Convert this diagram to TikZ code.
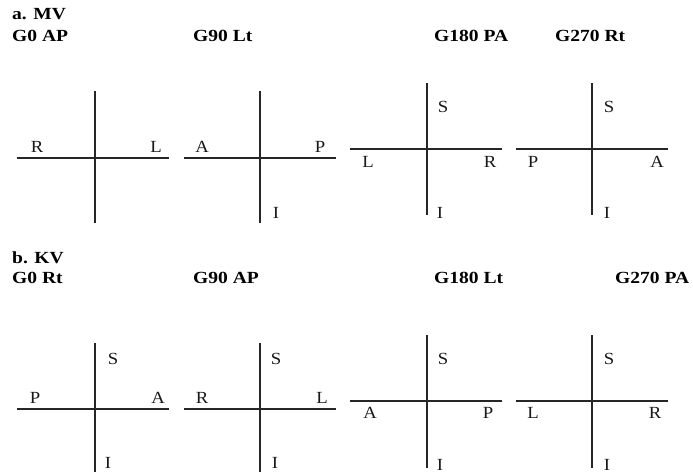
\documentclass[tikz,border=0pt]{standalone}
\usepackage{fontspec}
\setmainfont{Liberation Serif}
\tikzset{
  axisline/.style={draw=black!85, line width=1.1pt},
  lbl/.style={font=\fontsize{17}{19}\selectfont, inner sep=0pt, text=black!90},
  ttl/.style={font=\fontsize{17}{19}\selectfont\bfseries, inner sep=0pt, anchor=base west, text=black}
}
% slightly widened text
\newcommand{\widetext}[1]{\scalebox{1.15}[1]{#1}}
\newcommand{\lbltext}[1]{\scalebox{1.1}[1]{#1}}
% one pair of axes: name, centre x, centre y, up, down, left, right
\newcommand{\axispair}[7]{%
  \coordinate (#1c) at (#2,#3);
  \coordinate (#1t) at (#2,#3-#4);
  \coordinate (#1b) at (#2,#3+#5);
  \coordinate (#1l) at (#2-#6,#3);
  \coordinate (#1r) at (#2+#7,#3);
  \draw[axisline] (#1t) -- (#1b);
  \draw[axisline] (#1l) -- (#1r);
}
\begin{document}
\begin{tikzpicture}[x=1pt, y=-1pt]
\useasboundingbox (0,0) rectangle (693,474);

% ---------- a. MV ----------
\node[ttl] (mv)    at (12,19)  {\widetext{a. MV}};
\node[ttl] (a0)    at (12,41)  {\widetext{G0 AP}};
\node[ttl] (a90)   at (193,41) {\widetext{G90 Lt}};
\node[ttl] (a180)  at (434,41) {\widetext{G180 PA}};
\node[ttl] (a270)  at (555,41) {\widetext{G270 Rt}};

\axispair{p1}{95}{158}{67}{65}{78}{74}
\node[lbl] (p1R) at (37,147)  {\lbltext{R}};
\node[lbl] (p1L) at (156,147) {\lbltext{L}};

\axispair{p2}{260}{158}{67}{65}{76}{76}
\node[lbl] (p2A) at (202,147) {\lbltext{A}};
\node[lbl] (p2P) at (320,147) {\lbltext{P}};
\node[lbl] (p2I) at (276,213) {\lbltext{I}};

\axispair{p3}{427}{149}{66}{66}{77}{75}
\node[lbl] (p3S) at (443,107) {\lbltext{S}};
\node[lbl] (p3L) at (368,162) {\lbltext{L}};
\node[lbl] (p3R) at (490,162) {\lbltext{R}};
\node[lbl] (p3I) at (440,213) {\lbltext{I}};

\axispair{p4}{592}{149}{66}{66}{76}{76}
\node[lbl] (p4S) at (609,107) {\lbltext{S}};
\node[lbl] (p4P) at (533,162) {\lbltext{P}};
\node[lbl] (p4A) at (657,162) {\lbltext{A}};
\node[lbl] (p4I) at (607,213) {\lbltext{I}};

% ---------- b. KV ----------
\node[ttl] (kv)    at (12,263)  {\widetext{b. KV}};
\node[ttl] (b0)    at (12,283)  {\widetext{G0 Rt}};
\node[ttl] (b90)   at (193,283) {\widetext{G90 AP}};
\node[ttl] (b180)  at (434,283) {\widetext{G180 Lt}};
\node[ttl] (b270)  at (615,283) {\widetext{G270 PA}};

\axispair{q1}{95}{409}{66}{63}{78}{74}
\node[lbl] (q1S) at (113,359) {\lbltext{S}};
\node[lbl] (q1P) at (35,398)  {\lbltext{P}};
\node[lbl] (q1A) at (158,398) {\lbltext{A}};
\node[lbl] (q1I) at (108,463) {\lbltext{I}};

\axispair{q2}{260}{409}{66}{63}{76}{76}
\node[lbl] (q2S) at (276,359) {\lbltext{S}};
\node[lbl] (q2R) at (202,398) {\lbltext{R}};
\node[lbl] (q2L) at (322,398) {\lbltext{L}};
\node[lbl] (q2I) at (275,463) {\lbltext{I}};

\axispair{q3}{427}{401}{66}{67}{77}{75}
\node[lbl] (q3S) at (443,359) {\lbltext{S}};
\node[lbl] (q3A) at (370,413) {\lbltext{A}};
\node[lbl] (q3P) at (488,413) {\lbltext{P}};
\node[lbl] (q3I) at (440,465) {\lbltext{I}};

\axispair{q4}{592}{401}{66}{67}{76}{76}
\node[lbl] (q4S) at (609,359) {\lbltext{S}};
\node[lbl] (q4L) at (533,413) {\lbltext{L}};
\node[lbl] (q4R) at (655,413) {\lbltext{R}};
\node[lbl] (q4I) at (607,465) {\lbltext{I}};
\end{tikzpicture}
\end{document}
